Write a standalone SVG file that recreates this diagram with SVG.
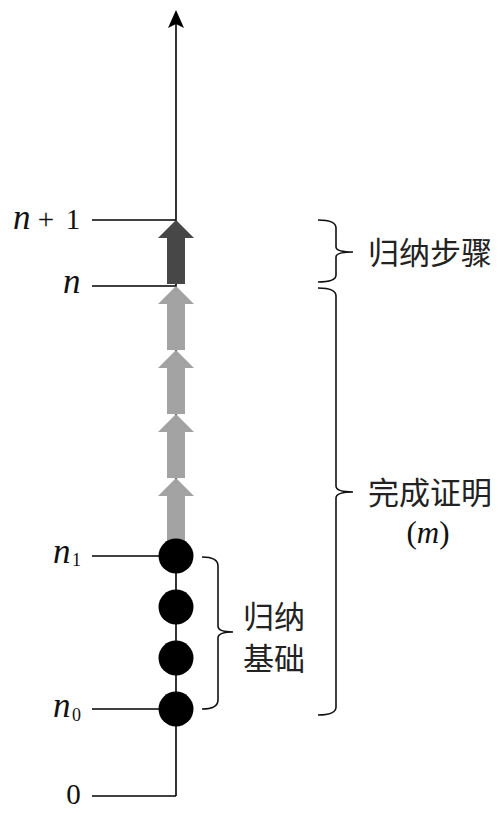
<svg xmlns="http://www.w3.org/2000/svg" width="503" height="813" viewBox="0 0 503 813">
<style>
.ln{stroke:#000;stroke-width:1.6;fill:none}
.br{stroke:#111;stroke-width:1.6;fill:none}
.it{font-family:'Liberation Serif','Noto Serif','DejaVu Serif',serif;font-style:italic;fill:#111}
.rm{font-family:'Liberation Serif','Noto Serif','DejaVu Serif',serif;fill:#111}
.cjk{font-family:'Noto Sans CJK SC','Noto Sans',sans-serif;font-size:31px;fill:#222}
.grey{fill:#a3a3a3}
.dark{fill:#474747}
</style>
<defs>
<marker id="ah" viewBox="0 0 18 16" refX="15" refY="8" markerWidth="18" markerHeight="16" markerUnits="userSpaceOnUse" orient="auto">
<path d="M18,8 L0,0 L4,8 L0,16 Z" fill="#000"/>
</marker>
<path id="blk" d="M0,0 L18,18 L9,18 L9,64 L-9,64 L-9,18 L-18,18 Z"/>
</defs>

<g id="connectors">
<line class="ln" x1="176" y1="796" x2="176" y2="13" marker-end="url(#ah)"/>
<line class="ln" x1="92" y1="220" x2="176" y2="220"/>
<line class="ln" x1="92" y1="286" x2="176" y2="286"/>
<line class="ln" x1="92" y1="556" x2="176" y2="556"/>
<line class="ln" x1="92" y1="709" x2="176" y2="709"/>
<line class="ln" x1="92" y1="796" x2="176" y2="796"/>
</g>

<g id="arrows">
<use href="#blk" class="dark" x="176" y="220"/>
<use href="#blk" class="grey" x="176" y="286"/>
<use href="#blk" class="grey" x="176" y="350"/>
<use href="#blk" class="grey" x="176" y="414"/>
<path class="grey" d="M176,478 L194,496 L185,496 L185,545 L167,545 L167,496 L158,496 Z"/>
</g>

<g id="dots">
<circle cx="176" cy="556" r="17.5" fill="#000"/>
<circle cx="176" cy="607" r="17.5" fill="#000"/>
<circle cx="176" cy="658" r="17.5" fill="#000"/>
<circle cx="176" cy="709" r="17.5" fill="#000"/>
</g>

<g id="labels">
<text class="it" x="13" y="229" font-size="35">n</text>
<text class="rm" x="46" y="229" font-size="29" text-anchor="middle">+</text>
<text class="rm" x="73" y="229" font-size="29" text-anchor="middle">1</text>
<text class="it" x="63" y="293" font-size="35">n</text>
<text class="it" x="53" y="563" font-size="35">n</text>
<text class="rm" x="72" y="566" font-size="18">1</text>
<text class="it" x="53" y="717" font-size="35">n</text>
<text class="rm" x="72" y="721" font-size="18">0</text>
<text class="rm" x="73.5" y="804" font-size="29" text-anchor="middle">0</text>
</g>

<g id="brace-basis">
<path class="br" d="M202,557 Q218,557 218,566 L218,626 Q218,632 233,632 Q218,632 218,638 L218,700 Q218,709 202,709"/>
<text class="cjk" x="274" y="614" text-anchor="middle" dominant-baseline="central">归纳</text>
<text class="cjk" x="274" y="656" text-anchor="middle" dominant-baseline="central">基础</text>
</g>

<g id="brace-step">
<path class="br" d="M318,220 Q336,220 336,228 L336,247 Q336,252 353,252 Q336,252 336,257 L336,275 Q336,282 318,282"/>
<text class="cjk" x="430" y="250" font-size="32" text-anchor="middle" dominant-baseline="central">归纳步骤</text>
</g>

<g id="brace-proof">
<path class="br" d="M318,288 Q336,288 336,296 L336,486 Q336,492 353,492 Q336,492 336,498 L336,707 Q336,715 318,715"/>
<text class="cjk" x="430" y="490" font-size="32" text-anchor="middle" dominant-baseline="central">完成证明</text>
<text class="rm" x="428" y="543" font-size="31" text-anchor="middle">(<tspan font-style="italic">m</tspan>)</text>
</g>
</svg>
